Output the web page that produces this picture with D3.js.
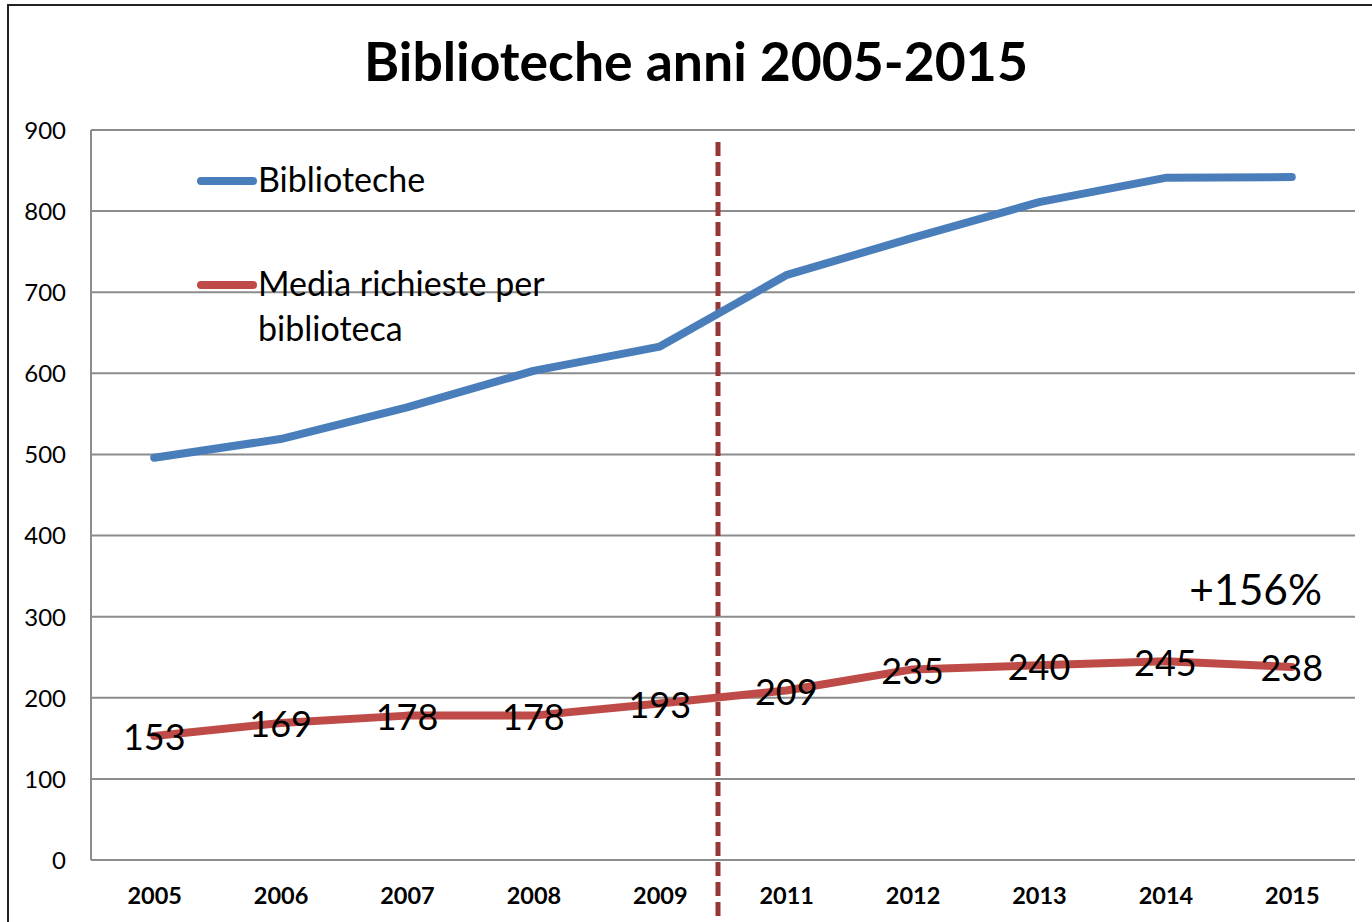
<!DOCTYPE html>
<html><head><meta charset="utf-8">
<script src="https://cdn.jsdelivr.net/npm/d3@7"></script>
<style>body{margin:0;background:#fff}svg{display:block}text{font-family:Lato,"Open Sans",sans-serif}</style>
</head><body>
<script>
const years = ["2005","2006","2007","2008","2009","2011","2012","2013","2014","2015"];
const biblioteche = [496, 519, 558, 603, 633, 721, 767, 811, 841, 842];
const mediaRichieste = [153, 169, 178, 178, 193, 209, 235, 240, 245, 238];
const yTicks = [0,100,200,300,400,500,600,700,800,900];
const seriesNames = ["Biblioteche", "Media richieste per biblioteca"];
const title = "Biblioteche anni 2005-2015";
const annotation = "+156%";

const W = 1372, H = 922;
const svg = d3.select("body").append("svg").attr("width", W).attr("height", H);
svg.append("rect").attr("width", W).attr("height", H).attr("fill", "#fff");
svg.append("rect").attr("x", 8).attr("y", 5).attr("width", 1500).attr("height", 1100)
  .attr("fill", "none").attr("stroke", "#222").attr("stroke-width", 2);

const L = 91, R = 1355, T = 130, B = 860;
const x = d3.scalePoint().domain(years).range([L, R]).padding(0.5);
const y = d3.scaleLinear().domain([0, 900]).range([B, T]);

// gridlines
svg.append("g").selectAll("line").data(yTicks).join("line")
  .attr("x1", L).attr("x2", R).attr("y1", d => y(d)).attr("y2", d => y(d))
  .attr("stroke", "#8c8c8c").attr("stroke-width", 2);
svg.append("line").attr("x1", L).attr("x2", L).attr("y1", T).attr("y2", B)
  .attr("stroke", "#8c8c8c").attr("stroke-width", 2);

// y axis labels
const yAxis = d3.axisLeft(y).tickValues(yTicks).tickSize(0).tickPadding(25);
const gy = svg.append("g").attr("transform", `translate(${L},0)`).call(yAxis);
gy.select(".domain").remove();
gy.selectAll("text").style("font-size", "24px").attr("fill", "#000").attr("dy", "0.35em");

// x axis labels
const xAxis = d3.axisBottom(x).tickSize(0).tickPadding(27);
const gx = svg.append("g").attr("transform", `translate(0,${B})`).call(xAxis);
gx.select(".domain").remove();
gx.selectAll("text").style("font-size", "23.5px").style("font-weight", "bold").attr("fill", "#000");

// divider between 2009 and 2011
const step = x.step();
const divX = x("2011") - step / 2 - 5;
svg.append("line").attr("x1", divX).attr("x2", divX).attr("y1", 142).attr("y2", H)
  .attr("stroke", "#953735").attr("stroke-width", 5).attr("stroke-dasharray", "14,6");

const line = d3.line().x((d, i) => x(years[i])).y(d => y(d));
svg.append("path").datum(biblioteche).attr("d", line).attr("fill", "none")
  .attr("stroke", "#4a7ebb").attr("stroke-width", 8).attr("stroke-linecap", "round").attr("stroke-linejoin", "round");
svg.append("path").datum(mediaRichieste).attr("d", line).attr("fill", "none")
  .attr("stroke", "#be4b48").attr("stroke-width", 8).attr("stroke-linecap", "round").attr("stroke-linejoin", "round");

// data labels
svg.append("g").selectAll("text").data(mediaRichieste).join("text")
  .attr("x", (d, i) => x(years[i])).attr("y", d => y(d)).attr("dy", "0.4em")
  .attr("text-anchor", "middle").style("font-size", "36px").attr("fill", "#000").text(d => d);

// annotation
svg.append("text").attr("x", 1322).attr("y", 605).attr("text-anchor", "end")
  .style("font-size", "42.5px").attr("fill", "#000").text(annotation);

// title
svg.append("text").attr("x", 696).attr("y", 81).attr("text-anchor", "middle")
  .style("font-size", "53.5px").style("font-weight", "bold").attr("fill", "#000").text(title);

// legend
const leg = svg.append("g");
leg.append("line").attr("x1", 201).attr("x2", 253).attr("y1", 181).attr("y2", 181)
  .attr("stroke", "#4a7ebb").attr("stroke-width", 8).attr("stroke-linecap", "round");
leg.append("text").attr("x", 258).attr("y", 192).style("font-size", "34px").text(seriesNames[0]);
leg.append("line").attr("x1", 201).attr("x2", 253).attr("y1", 285).attr("y2", 285)
  .attr("stroke", "#be4b48").attr("stroke-width", 8).attr("stroke-linecap", "round");
leg.append("text").attr("x", 258).attr("y", 296).style("font-size", "34px").text("Media richieste per");
leg.append("text").attr("x", 258).attr("y", 341).style("font-size", "34px").text("biblioteca");
</script>
</body></html>
